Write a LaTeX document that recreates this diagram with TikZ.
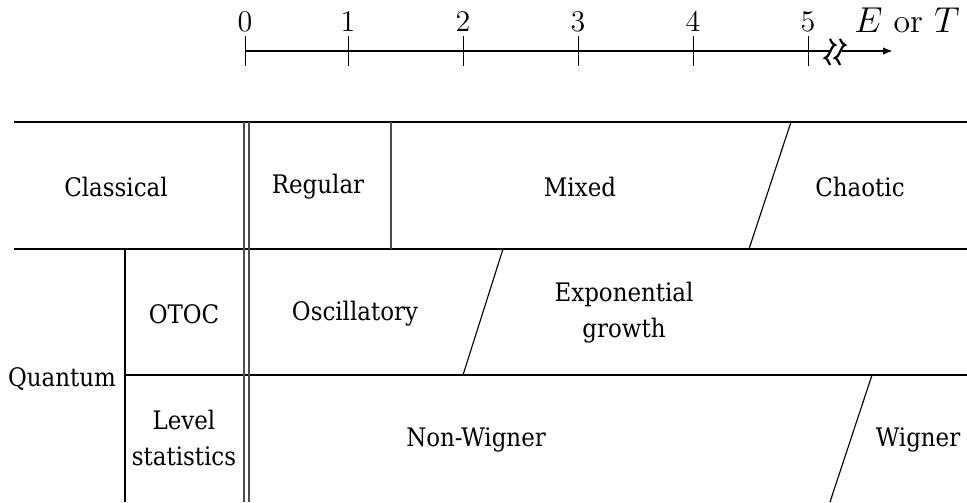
\documentclass[tikz,border=0pt]{standalone}
\usepackage{fontspec}
\newfontfamily\cellfont{DejaVu Serif Condensed}
\usetikzlibrary{arrows.meta}
\tikzset{
	every picture/.style={font=\fontsize{12}{14}\selectfont,},
	cell/.style={font=\cellfont\fontsize{10.2}{14.4}\selectfont, align=center, inner sep=0pt,},
	rule/.style={line width=0.45pt,},
	thinrule/.style={line width=0.45pt, black!70,},
	axisline/.style={line width=0.8pt,},
	tick/.style={line width=0.4pt,},
	breakmark/.style={line width=0.9pt,},
}
\gdef\xL{14}
\gdef\xR{967}
\gdef\xQ{125}
\gdef\xDa{244}
\gdef\xDb{249}
\gdef\yA{122}
\gdef\yB{249}
\gdef\yC{375}
\gdef\yD{502}

\begin{document}
\begin{tikzpicture}[x=0.4pt, y=-0.4pt]

	\useasboundingbox (0,0) rectangle (967,502);

	%%% Energy / temperature axis

	\draw[axisline] (245,51) -- (830,51);
	\foreach \x/\v in {245/0,348/1,463/2,578/3,693/4,808/5}
		\draw[tick] (\x,36) -- (\x,66) node[pos=0, above, inner sep=1.5pt] (n\v) {$\v$};

	\foreach \x in {830,840}
		\draw[breakmark] (\x,39) sin ({\x+5},45) cos (\x,52) sin ({\x-5},58) cos (\x,65);
	\draw[axisline, -{Latex[length=4pt, width=3pt]}] (842,51) -- (893,51);
	\node[anchor=base, font=\fontsize{13.5}{16}\selectfont] (eort) at (907,32) {$E$ or $T$};

	%%% Table rules

	\draw[rule] (\xL,\yA) -- (\xR,\yA);
	\draw[rule] (\xL,\yB) -- (\xR,\yB);
	\draw[rule] (\xQ,\yC) -- (\xR,\yC);
	\draw[rule] (\xQ,\yB) -- (\xQ,\yD);
	\draw[thinrule] (\xDa,\yA) -- (\xDa,\yD);
	\draw[thinrule] (\xDb,\yA) -- (\xDb,\yD);

	\draw[thinrule] (391,\yA) -- (391,\yB);
	\draw[rule] (791,\yA) -- (749,\yB);
	\draw[rule] (503,\yB) -- (463,\yC);
	\draw[rule] (872,\yC) -- (830,\yD);

	%%% Cells

	\node[cell] (classical) at (116,187) {Classical};
	\node[cell] (regular) at (318,187) {Regular};
	\node[cell] (mixed) at (580,187) {Mixed};
	\node[cell] (chaotic) at (860,187) {Chaotic};

	\node[cell] (quantum) at (62,379) {Quantum};
	\node[cell] (otoc) at (184,314) {OTOC};
	\node[cell] (osc) at (355,314) {Oscillatory};
	\node[cell] (expo) at (624,313) {Exponential\\growth};

	\node[cell] (level) at (184,438) {Level\\statistics};
	\node[cell] (nonwig) at (476,440) {Non-Wigner};
	\node[cell] (wig) at (918,440) {Wigner};

\end{tikzpicture}
\end{document}
